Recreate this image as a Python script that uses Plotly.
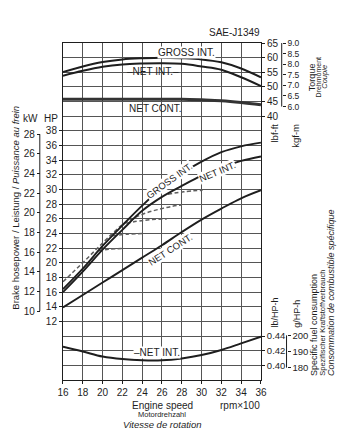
import plotly.graph_objects as go

# ---------------- data ----------------
rpm = [16, 18, 20, 22, 24, 26, 28, 30, 32, 34, 36]          # x100 rpm
torque_gross_int = [55.1, 57.0, 58.5, 59.4, 59.8, 60.0, 59.8, 59.4, 58.4, 56.3, 53.3]   # lbf-ft
torque_net_int = [53.8, 55.5, 56.9, 57.7, 58.0, 58.1, 57.9, 57.0, 55.9, 53.3, 50.3]
torque_net_cont = [45.8, 45.8, 45.8, 45.8, 45.8, 45.8, 45.8, 45.6, 45.3, 44.7, 43.9]

hp_gross_int = [16.4, 19.2, 22.3, 25.1, 27.8, 30.2, 32.2, 33.8, 35.1, 35.9, 36.4]      # HP
hp_net_int = [16.0, 18.8, 21.8, 24.5, 27.1, 29.0, 30.5, 31.9, 33.0, 33.9, 34.5]
hp_net_cont = [13.9, 15.6, 17.3, 19.0, 20.7, 22.4, 24.2, 25.9, 27.4, 28.8, 29.9]

sfc_net_int = [0.4255, 0.419, 0.412, 0.4085, 0.407, 0.407, 0.4095, 0.414, 0.421, 0.430, 0.439]  # lb/HP-h

# dashed (partial / governed) power curves
env_rpm = [16, 17, 18, 19, 20, 21, 22, 23, 24, 25, 26, 27, 28]
env_hp = [17.4, 18.7, 20.0, 21.35, 22.7, 24.0, 25.2, 26.0, 26.6, 27.05, 27.4, 27.7, 27.9]
b1_rpm = [19.6, 20.6, 22.2]
b1_hp = [21.65, 21.85, 21.95]
b2_rpm = [21.0, 22.5, 24.2]
b2_hp = [23.7, 23.9, 24.0]
b3_rpm = [22.4, 24.2, 26.5]
b3_hp = [25.4, 25.8, 26.0]
b5_rpm = [26.6, 28.2, 30.1]
b5_hp = [29.35, 29.7, 29.9]

rpm_ticks = [16, 18, 20, 22, 24, 26, 28, 30, 32, 34, 36]
hp_ticks = [12, 14, 16, 18, 20, 22, 24, 26, 28, 30, 32, 34, 36, 38]
kw_ticks = [10, 12, 14, 16, 18, 20, 22, 24, 26, 28]
lbf_ticks = [40, 45, 50, 55, 60, 65]
kgf_ticks = [6.0, 6.5, 7.0, 7.5, 8.0, 8.5, 9.0]
lb_ticks = [0.40, 0.42, 0.44]
g_ticks = [180, 190, 200]

# unit conversions
HP_TO_KW = 0.7457
LBF_PER_KGF = 7.23301
G_PER_LB = 453.592

FONT = "Liberation Sans, Arial, Helvetica, sans-serif"
INK = "#1e1e1e"
GRID = "#555555"

# ---------------- geometry ----------------
W, H = 350, 441
TOP, BOT = 43, 380
L_PX, R_PX = 59, 264


def px(x):
    return x / W


def py(y):
    return (BOT - y) / (BOT - TOP)


fig = go.Figure()

line_kw = dict(mode="lines", line_shape="spline", hoverinfo="skip", showlegend=False)

# torque curves (lbf-ft axis)
fig.add_trace(go.Scatter(x=rpm, y=torque_gross_int, yaxis="y4", line=dict(color=INK, width=2), **line_kw))
fig.add_trace(go.Scatter(x=rpm, y=torque_net_int, yaxis="y4", line=dict(color=INK, width=2), **line_kw))
fig.add_trace(go.Scatter(x=rpm, y=torque_net_cont, yaxis="y4", line=dict(color="#333", width=3), **line_kw))

# dashed curves (HP axis)
for xs, ys in [(env_rpm, env_hp), (b1_rpm, b1_hp), (b2_rpm, b2_hp), (b3_rpm, b3_hp), (b5_rpm, b5_hp)]:
    fig.add_trace(go.Scatter(x=xs, y=ys, yaxis="y", line=dict(color="#5e5e5e", width=1.5, dash="4px,2.5px"), **line_kw))

# power curves (HP axis)
fig.add_trace(go.Scatter(x=rpm, y=hp_gross_int, yaxis="y", line=dict(color=INK, width=1.9), **line_kw))
fig.add_trace(go.Scatter(x=rpm, y=hp_net_int, yaxis="y", line=dict(color=INK, width=1.9), **line_kw))
fig.add_trace(go.Scatter(x=rpm, y=hp_net_cont, yaxis="y", line=dict(color=INK, width=1.9), **line_kw))

# fuel consumption (lb/HP-h axis)
fig.add_trace(go.Scatter(x=rpm, y=sfc_net_int, yaxis="y6", line=dict(color=INK, width=2), **line_kw))

# invisible companions binding the secondary unit axes (same curves in other units)
inv = dict(mode="lines", line=dict(width=0, color="rgba(0,0,0,0)"), hoverinfo="skip", showlegend=False)
fig.add_trace(go.Scatter(x=rpm, y=hp_gross_int, yaxis="y2", **inv))
fig.add_trace(go.Scatter(x=rpm, y=[v * HP_TO_KW for v in hp_gross_int], yaxis="y3", **inv))
fig.add_trace(go.Scatter(x=rpm, y=[v / LBF_PER_KGF for v in torque_gross_int], yaxis="y5", **inv))
fig.add_trace(go.Scatter(x=rpm, y=[v * G_PER_LB for v in sfc_net_int], yaxis="y7", **inv))

# axis ranges: 23 grid rows; HP 4..50, lbf-ft -50..65, lb/HP-h 0.38..0.84
hp_rng = [4, 50]
lbf_rng = [-50, 65.0001]
lb_rng = [0.38, 0.84]

tick_font = dict(family=FONT, size=10, color=INK)

common_overlay = dict(overlaying="y", showgrid=False, zeroline=False, showline=False,
                      ticks="outside", ticklen=3, tickcolor=INK, tickwidth=1, fixedrange=True)

fig.update_layout(
    width=W, height=H,
    margin=dict(l=0, r=0, t=TOP, b=H - BOT),
    paper_bgcolor="white", plot_bgcolor="white",
    showlegend=False,
    font=dict(family=FONT, size=10, color=INK),
    xaxis=dict(domain=[px(L_PX), px(R_PX)], range=[16, 36], tickvals=rpm_ticks,
               showgrid=True, gridcolor=GRID, gridwidth=1, zeroline=False,
               showline=True, linecolor=INK, linewidth=1.2, mirror=True,
               ticks="outside", ticklen=3, tickcolor=INK, tickfont=tick_font, fixedrange=True),
    yaxis=dict(range=hp_rng, tickvals=list(range(4, 52, 2)), showticklabels=False, ticks="",
               showgrid=True, gridcolor=GRID, gridwidth=1, zeroline=False,
               showline=True, linecolor=INK, linewidth=1.2, mirror=True, fixedrange=True),
    yaxis2=dict(common_overlay, anchor="x", side="left", range=hp_rng, tickvals=hp_ticks, tickfont=tick_font),
    yaxis3=dict(common_overlay, anchor="free", position=px(35), side="left",
                range=[hp_rng[0] * HP_TO_KW, hp_rng[1] * HP_TO_KW], tickvals=kw_ticks, tickfont=tick_font),
    yaxis4=dict(common_overlay, anchor="x", side="right", range=lbf_rng, tickvals=lbf_ticks, tickfont=tick_font),
    yaxis5=dict(common_overlay, anchor="free", position=px(285.5), side="right",
                range=[lbf_rng[0] / LBF_PER_KGF, 9.0 + 0.002], tickvals=kgf_ticks, tickformat=".1f",
                tickfont=dict(family=FONT, size=8.5, color=INK)),
    yaxis6=dict(common_overlay, anchor="x", side="right", range=lb_rng, tickvals=lb_ticks, tickformat=".2f",
                tickfont=dict(family=FONT, size=9.5, color=INK)),
    yaxis7=dict(common_overlay, anchor="free", position=px(290.5), side="right",
                range=[lb_rng[0] * G_PER_LB, lb_rng[1] * G_PER_LB], tickvals=g_ticks,
                tickfont=dict(family=FONT, size=9.5, color=INK)),
)

# brackets for secondary unit scales
fig.add_shape(type="line", xref="paper", yref="y3", x0=px(35), x1=px(35), y0=kw_ticks[0], y1=kw_ticks[-1],
              line=dict(color=INK, width=1))
fig.add_shape(type="line", xref="paper", yref="y5", x0=px(285.5), x1=px(285.5), y0=kgf_ticks[0], y1=kgf_ticks[-1],
              line=dict(color=INK, width=1))
fig.add_shape(type="line", xref="paper", yref="y7", x0=px(290.5), x1=px(290.5), y0=g_ticks[0], y1=g_ticks[-1],
              line=dict(color=INK, width=1))


def ann(text, x, y, size=10, angle=0, xanchor="center", yanchor="middle", bg="rgba(0,0,0,0)"):
    return dict(text=text, x=px(x), y=py(y), xref="paper", yref="paper", showarrow=False,
                font=dict(family=FONT, size=size, color=INK), textangle=angle,
                xanchor=xanchor, yanchor=yanchor, bgcolor=bg, borderpad=0)


WHITE = "white"
annotations = [
    ann("SAE-J1349", 264, 32, size=10, xanchor="right"),
    ann("kW", 25, 118, size=10),
    ann("HP", 47, 118, size=10),
    ann("Brake hosepower / Leistung / <i>Puissance au frein</i>", 9, 208, size=9.5, angle=-90),
    ann("lbf-ft", 277, 133, size=9.5, angle=-90),
    ann("kgf-m", 299, 136, size=9.5, angle=-90),
    ann("Torque", 317, 77, size=9, angle=-90),
    ann("Drehmoment", 323.5, 77, size=7, angle=-90),
    ann("<i>Couple</i>", 329, 77, size=7.5, angle=-90),
    ann("lb/HP-h", 279, 312, size=9, angle=-90),
    ann("g/HP-h", 301, 314, size=9, angle=-90),
    ann("Specific fuel consumption", 319, 377, size=9, angle=-90, yanchor="bottom"),
    ann("Spezifischer Kraftstoffverbrauch", 327, 377, size=7.5, angle=-90, yanchor="bottom"),
    ann("<i>Consommation de combustible spécifique</i>", 336, 377, size=9, angle=-90, yanchor="bottom"),
    ann("Engine speed", 162, 405, size=10),
    ann("Motordrehzahl", 162, 414.5, size=7.5),
    ann("<i>Vitesse de rotation</i>", 162, 424.5, size=9.5),
    ann("rpm×100", 242, 405, size=10),
    # curve labels - torque
    ann("GROSS INT.", 187, 52, size=10, bg=WHITE),
    ann("–NET INT.–", 152, 71, size=10),
    ann("NET CONT.", 155, 108, size=10),
    # curve labels - power
    ann("GROSS INT.", 169, 180, size=9.5, angle=-36, bg=WHITE),
    ann("NET INT.", 219, 171, size=9.5, angle=-23, bg=WHITE),
    ann("NET CONT.", 170, 249, size=9.5, angle=-33, bg=WHITE),
    # curve label - fuel consumption
    ann("–NET INT.", 156, 352, size=10, bg=WHITE),
]
fig.update_layout(annotations=annotations)

fig.write_html("out.html")
